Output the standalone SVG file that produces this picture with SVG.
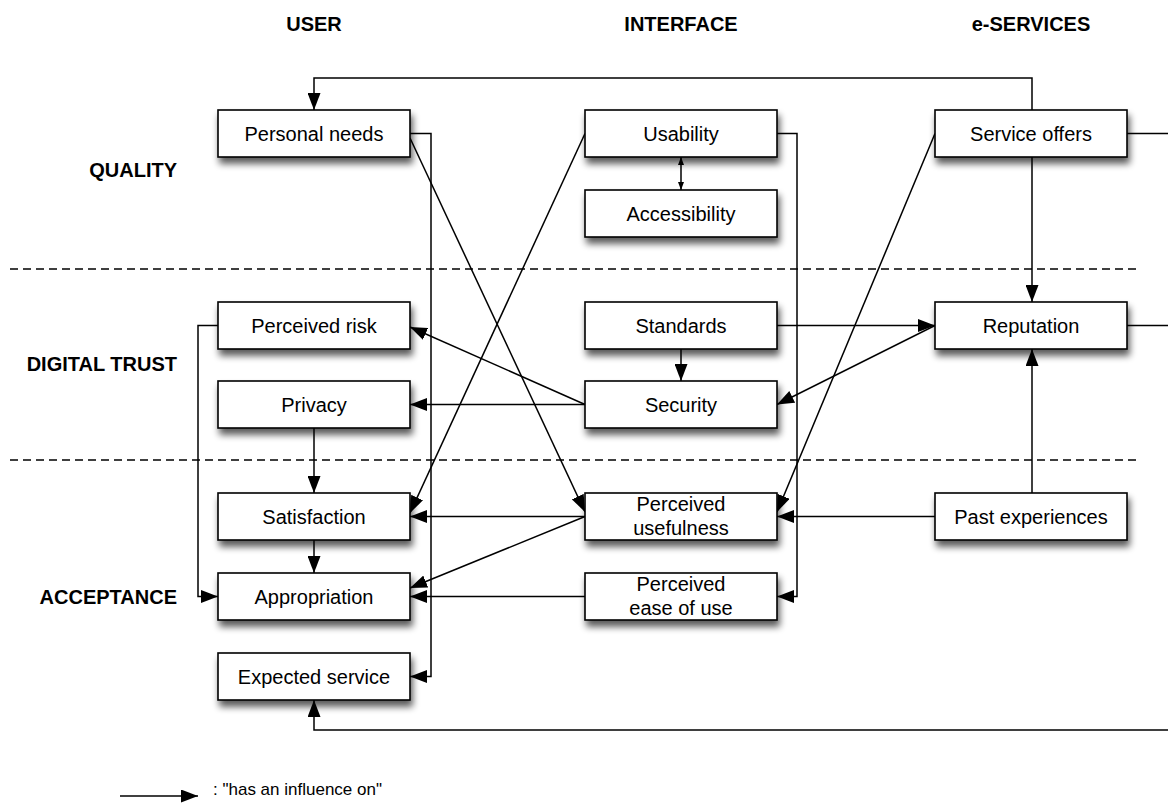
<svg xmlns="http://www.w3.org/2000/svg" width="1168" height="803" viewBox="0 0 1168 803">
<style>
.box{fill:#fff;stroke:#000;stroke-width:1.6}
.lbl{font-family:"Liberation Sans",Arial,sans-serif;font-size:20px;fill:#000;text-anchor:middle}
.hdr{font-family:"Liberation Sans",Arial,sans-serif;font-size:20px;font-weight:bold;fill:#000;text-anchor:middle}
.row{font-family:"Liberation Sans",Arial,sans-serif;font-size:20px;font-weight:bold;fill:#000;text-anchor:end}
.leg{font-family:"Liberation Sans",Arial,sans-serif;font-size:17px;fill:#000}
.c{fill:none;stroke:#000;stroke-width:1.5}
.a{marker-end:url(#ah)}
.dash{stroke:#000;stroke-width:1.3;stroke-dasharray:8 5}
</style>
<defs>
<filter id="sh" x="-10%" y="-20%" width="130%" height="170%">
<feGaussianBlur in="SourceAlpha" stdDeviation="3.5"/>
<feOffset dx="2" dy="6" result="b"/>
<feComponentTransfer><feFuncA type="linear" slope="0.65"/></feComponentTransfer>
<feMerge><feMergeNode/><feMergeNode in="SourceGraphic"/></feMerge>
</filter>
<marker id="ah" markerUnits="userSpaceOnUse" markerWidth="17" markerHeight="13" refX="17" refY="6.5" orient="auto">
<path d="M0,0 L17,6.5 L0,13 z" fill="#000"/>
</marker>
<marker id="sm" markerUnits="userSpaceOnUse" markerWidth="8" markerHeight="6" refX="8" refY="3" orient="auto-start-reverse">
<path d="M0,0 L8,3 L0,6 z" fill="#000"/>
</marker>
</defs>
<rect width="1168" height="803" fill="#fff"/>

<g id="headers">
<text class="hdr" x="314" y="31">USER</text>
<text class="hdr" x="681" y="31">INTERFACE</text>
<text class="hdr" x="1031" y="31">e-SERVICES</text>
<text class="row" x="177" y="177">QUALITY</text>
<text class="row" x="177" y="371">DIGITAL TRUST</text>
<text class="row" x="177" y="604">ACCEPTANCE</text>
</g>

<g id="separators">
<line class="dash" x1="10" y1="269" x2="1140" y2="269"/>
<line class="dash" x1="10" y1="460" x2="1140" y2="460"/>
</g>

<g id="connectors">
<path class="c a" d="M1032,110 V78 H314 V110"/>
<path class="c a" d="M410,133.5 H431 V676.5 H410"/>
<path class="c a" d="M410,138 L585,512"/>
<path class="c a" d="M585,133.5 L410,513"/>
<path class="c a" d="M777,133.5 H797 V596.5 H777"/>
<line class="c" x1="681" y1="157" x2="681" y2="190" marker-start="url(#sm)" marker-end="url(#sm)"/>
<path class="c a" d="M935,133.5 L777,512"/>
<path class="c a" d="M1032,157 V302"/>
<path class="c a" d="M1127,133.5 H1172 V730 H314 V700"/>
<path class="c" d="M1127,325.5 H1172"/>
<path class="c a" d="M777,325.5 H935"/>
<path class="c a" d="M681,349 V381"/>
<path class="c a" d="M935,325.5 L777,404.5"/>
<path class="c a" d="M585,404.5 L410,327"/>
<path class="c a" d="M585,404.5 H410"/>
<path class="c a" d="M1032,493 V349"/>
<path class="c a" d="M935,516.5 H777"/>
<path class="c a" d="M218,325.5 H198 V596.5 H218"/>
<path class="c a" d="M314,428 V493"/>
<path class="c a" d="M314,540 V573"/>
<path class="c a" d="M585,516.5 H410"/>
<path class="c a" d="M585,516.5 L410,588"/>
<path class="c a" d="M585,596.5 H410"/>
</g>

<g id="personal-needs"><rect class="box" filter="url(#sh)" x="218" y="110" width="192" height="47"/><text class="lbl" x="314" y="141">Personal needs</text></g>
<g id="usability"><rect class="box" filter="url(#sh)" x="585" y="110" width="192" height="47"/><text class="lbl" x="681" y="141">Usability</text></g>
<g id="accessibility"><rect class="box" filter="url(#sh)" x="585" y="190" width="192" height="47"/><text class="lbl" x="681" y="221">Accessibility</text></g>
<g id="service-offers"><rect class="box" filter="url(#sh)" x="935" y="110" width="192" height="47"/><text class="lbl" x="1031" y="141">Service offers</text></g>
<g id="perceived-risk"><rect class="box" filter="url(#sh)" x="218" y="302" width="192" height="47"/><text class="lbl" x="314" y="333">Perceived risk</text></g>
<g id="standards"><rect class="box" filter="url(#sh)" x="585" y="302" width="192" height="47"/><text class="lbl" x="681" y="333">Standards</text></g>
<g id="reputation"><rect class="box" filter="url(#sh)" x="935" y="302" width="192" height="47"/><text class="lbl" x="1031" y="333">Reputation</text></g>
<g id="privacy"><rect class="box" filter="url(#sh)" x="218" y="381" width="192" height="47"/><text class="lbl" x="314" y="412">Privacy</text></g>
<g id="security"><rect class="box" filter="url(#sh)" x="585" y="381" width="192" height="47"/><text class="lbl" x="681" y="412">Security</text></g>
<g id="satisfaction"><rect class="box" filter="url(#sh)" x="218" y="493" width="192" height="47"/><text class="lbl" x="314" y="524">Satisfaction</text></g>
<g id="perceived-usefulness"><rect class="box" filter="url(#sh)" x="585" y="493" width="192" height="47"/><text class="lbl" x="681" y="511">Perceived</text><text class="lbl" x="681" y="535">usefulness</text></g>
<g id="past-experiences"><rect class="box" filter="url(#sh)" x="935" y="493" width="192" height="47"/><text class="lbl" x="1031" y="524">Past experiences</text></g>
<g id="appropriation"><rect class="box" filter="url(#sh)" x="218" y="573" width="192" height="47"/><text class="lbl" x="314" y="604">Appropriation</text></g>
<g id="perceived-ease-of-use"><rect class="box" filter="url(#sh)" x="585" y="573" width="192" height="47"/><text class="lbl" x="681" y="591">Perceived</text><text class="lbl" x="681" y="615">ease of use</text></g>
<g id="expected-service"><rect class="box" filter="url(#sh)" x="218" y="653" width="192" height="47"/><text class="lbl" x="314" y="684">Expected service</text></g>

<g id="legend">
<line class="c a" x1="120" y1="796" x2="198" y2="796"/>
<text class="leg" x="213" y="795">: "has an influence on"</text>
</g>
</svg>
